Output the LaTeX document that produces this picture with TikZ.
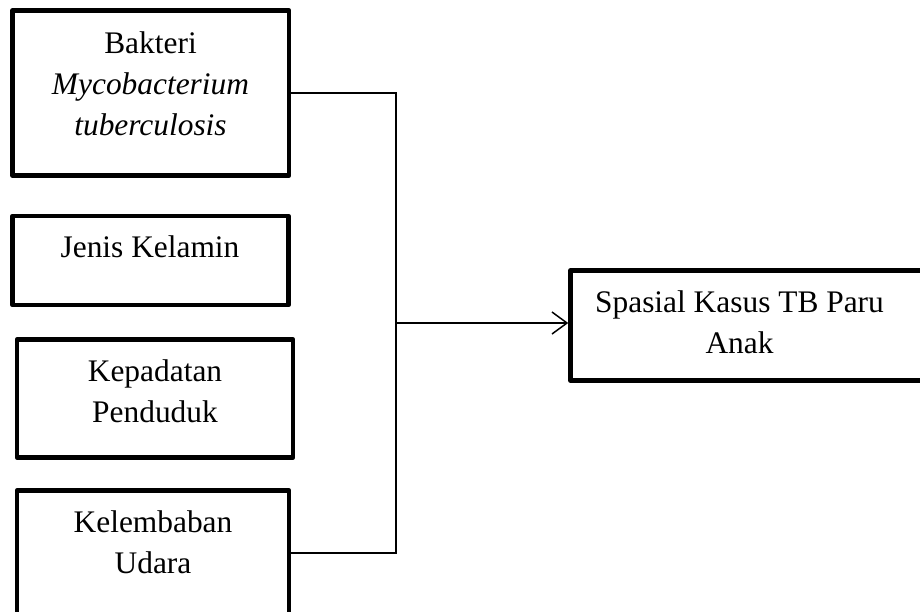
\documentclass[tikz,border=0pt]{standalone}
\usepackage{fontspec}
\setmainfont{Liberation Serif}
\usetikzlibrary{arrows.meta}
\tikzset{
  box/.style={draw, line width=4.5pt, line join=round, inner sep=0pt, rectangle},
  lbl/.style={anchor=base, align=center, inner sep=0pt, font=\fontsize{31.4}{41}\selectfont},
  conn/.style={draw, line width=1.5pt},
  tip/.style={-{Straight Barb[length=15pt, width=22pt, line width=1.5pt]}}
}
\begin{document}
\begin{tikzpicture}[x=1pt,y=-1pt]
\clip (0,0) rectangle (920,611);
\node[box, minimum width=276.5pt, minimum height=165pt] (b1) at (150.75,93) {};
\node[box, minimum width=276pt, minimum height=89pt] (b2) at (150.5,260.5) {};
\node[box, minimum width=276pt, minimum height=118pt] (b3) at (155,398.5) {};
\node[box, minimum width=272pt, minimum height=125pt] (b4) at (153,553) {};
\node[box, minimum width=379.5pt, minimum height=110pt] (b5) at (760.25,325.5) {};
\node[lbl] (t1) at (150.5,135) {Bakteri\\\textit{Mycobacterium}\\\textit{tuberculosis}};
\node[lbl] (t2) at (150,257) {Jenis Kelamin};
\node[lbl] (t3) at (155,422) {Kepadatan\\Penduduk};
\node[lbl] (t4) at (153,573) {Kelembaban\\Udara};
\node[lbl] (t5) at (739.5,353) {Spasial Kasus TB Paru\\Anak};
\coordinate (bus) at (396,323);
\draw[conn] (b1.east) -| (bus) |- (b4.east);
\draw[conn, tip] (bus) -- (bus -| b5.west);
\end{tikzpicture}
\end{document}
